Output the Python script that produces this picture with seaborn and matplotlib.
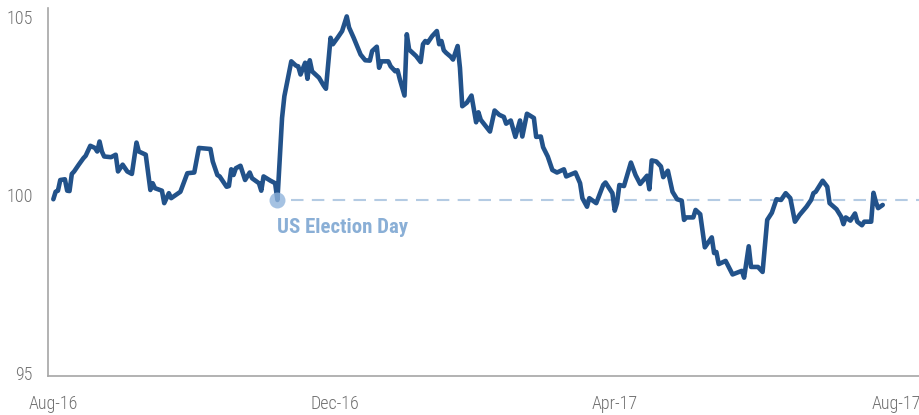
import matplotlib
matplotlib.use("Agg")
import matplotlib.pyplot as plt
import matplotlib.dates as mdates
from matplotlib import font_manager as fm
import seaborn as sns
import pandas as pd
import numpy as np

# ---- data ----
start_date = "2016-08-01"
day_offset = [0, 1, 2, 3, 5, 6, 7, 8, 9, 11, 13, 14, 16, 18, 19, 20, 21, 22, 25, 27,
              28, 30, 32, 34, 36, 37, 40, 42, 43, 44, 47, 48, 50, 51, 55, 58, 61, 63, 68, 69,
              71, 72, 75, 76, 77, 78, 79, 81, 83, 85, 86, 89, 90, 91, 94, 96, 97,
              99, 100, 103, 105, 106, 107, 109, 110, 111, 112, 115, 117, 118, 120, 121, 123, 125, 127,
              128, 130, 133, 135, 137, 138, 140, 141, 142, 145, 146, 148, 149, 150, 152, 153, 154,
              157, 159, 160, 161, 162, 164, 166, 167, 168, 169, 170, 172, 173, 175, 176, 177,
              179, 181, 183, 184, 185, 189, 191, 193, 195, 196, 198, 200, 202, 203, 205, 208, 209,
              211, 212, 214, 216, 218, 221, 222, 226, 228, 229, 231, 232, 235, 238, 239, 242, 243,
              244, 245, 247, 250, 252, 254, 257, 258, 259, 261, 263, 264, 266, 268, 270, 272, 273,
              274, 277, 278, 280, 282, 285, 286, 287, 288, 291, 294, 298, 299, 301, 302, 305, 307,
              309, 311, 313, 315, 317, 319, 321, 323, 326, 328, 329, 330, 333, 335, 336, 339, 341,
              342, 343, 345, 347, 348, 350, 351, 354, 355, 356, 357, 359]
index_value = [99.88, 100.09, 100.12, 100.42, 100.44, 100.12, 100.11, 100.59, 100.66, 100.85,
               101.03, 101.10, 101.38, 101.32, 101.22, 101.50, 101.22, 101.08, 101.06, 101.13,
               100.66, 100.85, 100.66, 100.59, 101.47, 101.22, 101.13, 100.14, 100.33, 100.19,
               100.12, 99.77, 100.05, 99.91, 100.09, 100.61, 100.63, 101.32, 101.29, 100.94,
               100.56, 100.52, 100.23, 100.25, 100.72, 100.56, 100.75, 100.82, 100.42, 100.63,
               100.47, 100.33, 100.12, 100.52, 100.40, 100.33, 99.86,
               102.16, 102.77, 103.75, 103.63, 103.61, 103.38, 103.71, 103.26, 103.78, 103.47,
               103.29, 103.07, 102.98, 104.41, 104.23, 104.41, 104.60, 105.01,
               104.70, 104.41, 103.94, 103.78, 103.77, 104.04, 104.16, 103.57, 103.75, 103.75,
               103.61, 103.47, 103.50, 103.24, 102.79, 104.51, 104.08,
               103.90, 103.73, 104.23, 104.32, 104.27, 104.46, 104.60, 104.23, 104.32, 104.06,
               103.99, 103.88, 103.80, 104.18, 103.57, 102.49,
               102.59, 102.79, 102.04, 102.32, 102.11, 101.78, 102.37, 102.25, 102.19, 102.00,
               102.09, 101.63, 102.09, 101.64, 102.28, 102.16, 101.63,
               101.64, 101.34, 101.08, 100.70, 100.63, 100.72, 100.52, 100.63, 100.33, 99.91,
               99.67, 99.91, 99.77, 100.28, 100.35, 100.05, 99.56,
               99.77, 100.28, 100.25, 100.91, 100.56, 100.31, 100.54, 100.16, 100.97, 100.94,
               100.80, 100.50, 100.68, 100.09, 99.88, 99.84, 99.30,
               99.37, 99.37, 99.58, 99.46, 98.53, 98.81, 98.37, 98.40, 98.06, 98.15,
               97.77, 97.87, 97.68, 98.56, 97.98, 97.98, 97.84,
               99.30, 99.50, 99.88, 99.86, 100.05, 99.91, 99.25, 99.44, 99.67, 99.86,
               100.05, 100.09, 100.40, 100.23, 99.77, 99.60, 99.39,
               99.18, 99.37, 99.28, 99.48, 99.25, 99.15, 99.25, 99.25, 100.06, 99.81,
               99.63, 99.72]
election_offset = 97
election_value = 99.86
election_label = "US Election Day"
y_ticks = [95, 100, 105]
x_tick_dates = ["2016-08-01", "2016-12-01", "2017-04-01", "2017-08-01"]

# ---- fonts ----
avail = {f.name for f in fm.fontManager.ttflist}
cond_family = "Roboto Condensed" if "Roboto Condensed" in avail else "Roboto"

sns.set_theme(style="white")
plt.rcParams["font.family"] = [cond_family, "DejaVu Sans"]

start = pd.Timestamp(start_date)
df = pd.DataFrame({
    "date": start + pd.to_timedelta(day_offset, unit="D"),
    "value": index_value,
})
election_date = start + pd.Timedelta(days=election_offset)

fig = plt.figure(figsize=(9.19, 4.15), dpi=100)
ax = fig.add_axes([0.052, 0.094, 0.948, 0.887])

line_color = "#22528a"
light_blue = "#8fb3db"

ax.hlines(election_value, election_date + pd.Timedelta(days=6), start + pd.Timedelta(days=380),
          colors="#b4cbe3", linewidth=1.5, linestyles=(0, (6, 4)), zorder=1)

sns.lineplot(data=df, x="date", y="value", ax=ax, color=line_color, linewidth=3.3, zorder=3)

ax.plot([election_date], [election_value], "o", markersize=11.5, color=light_blue,
        alpha=0.8, markeredgewidth=0, zorder=4)
ax.text(election_date, election_value - 0.78, election_label, color="#8aafd6",
        fontsize=15, fontweight="bold", ha="left", va="center", zorder=5)

ax.set_xlim(start - pd.Timedelta(days=2.4), start + pd.Timedelta(days=374.7))
ax.set_ylim(94.92, 105.25)
ax.set_yticks(y_ticks)
ax.set_yticklabels([str(t) for t in y_ticks])
ax.set_xticks(pd.to_datetime(x_tick_dates))
ax.xaxis.set_major_formatter(mdates.DateFormatter("%b-%y"))
ax.set_xlabel("")
ax.set_ylabel("")

for side in ["top", "right"]:
    ax.spines[side].set_visible(False)
for side in ["left", "bottom"]:
    ax.spines[side].set_color("#a6a6a6")
    ax.spines[side].set_linewidth(1.2)
ax.tick_params(axis="both", length=0, labelsize=13, labelcolor="#707070")
ax.tick_params(axis="y", pad=11)
ax.tick_params(axis="x", pad=14)
for lab in ax.get_xticklabels() + ax.get_yticklabels():
    lab.set_fontweight("light")
ax.grid(False)

fig.savefig("out.png", dpi=100)
